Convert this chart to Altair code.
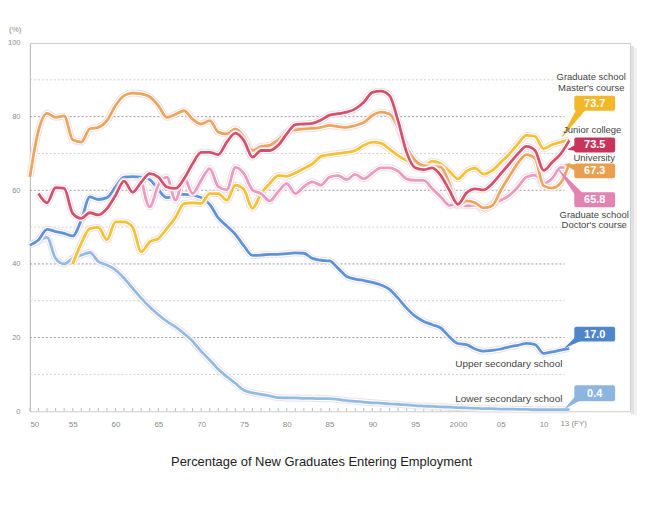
import altair as alt
import pandas as pd

# ---------------- data ----------------
years = list(range(1950, 2014))

upper_secondary = [45.1, 46.5, 49.4, 48.8, 48.3, 47.6, 51.9, 58.2, 57.5, 58.0,
                   60.9, 63.6, 63.7, 63.6, 62.9, 60.2, 58.0, 58.6, 58.9, 58.7,
                   58.0, 56.2, 52.5, 50.3, 48.0, 44.9, 42.3, 42.4, 42.6, 42.6,
                   42.8, 43.0, 42.9, 41.5, 41.0, 40.8, 38.8, 36.6, 35.9, 35.5,
                   35.0, 34.3, 33.1, 30.7, 28.0, 25.8, 24.4, 23.5, 22.6, 20.2,
                   18.4, 18.1, 16.9, 16.3, 16.5, 16.9, 17.5, 17.9, 18.4, 18.1,
                   15.7, 16.1, 16.6, 17.0]

lower_secondary = [45.1, 46.2, 47.2, 41.5, 40.0, 41.5, 42.4, 43.1, 40.6, 39.7,
                   38.4, 36.1, 33.4, 30.7, 28.3, 26.2, 24.4, 22.9, 21.1, 19.0,
                   16.3, 13.9, 11.4, 9.4, 7.6, 5.7, 5.0, 4.6, 4.2, 3.7,
                   3.6, 3.6, 3.5, 3.5, 3.4, 3.4, 3.2, 2.9, 2.7, 2.5,
                   2.3, 2.2, 2.0, 1.9, 1.7, 1.5, 1.4, 1.3, 1.2, 1.1,
                   1.0, 0.9, 0.8, 0.7, 0.7, 0.6, 0.6, 0.5, 0.5, 0.4,
                   0.4, 0.4, 0.4, 0.4]

university = [63.6, 76.2, 80.9, 79.8, 80.2, 73.7, 73.1, 76.7, 77.1, 78.9,
              83.0, 85.7, 86.4, 86.2, 85.4, 83.0, 79.8, 80.6, 81.6, 79.3,
              78.0, 78.9, 75.8, 75.3, 76.7, 74.6, 70.8, 71.9, 72.2, 73.7,
              75.8, 76.4, 76.7, 76.8, 77.1, 77.6, 77.3, 77.1, 77.6, 78.4,
              80.3, 81.2, 80.7, 77.1, 71.7, 68.1, 66.7, 66.5, 66.3, 61.8,
              55.7, 57.1, 56.6, 55.2, 55.8, 60.0, 63.8, 67.4, 69.7, 68.6,
              61.2, 60.6, 62.0, 67.3]

junior_college = [None,
                  59.1, 56.6, 60.7, 60.5, 53.7, 52.4, 53.9, 53.3, 55.0,
                  58.6, 62.5, 59.5, 62.2, 64.5, 63.6, 60.9, 60.5, 63.1, 67.2,
                  70.3, 70.3, 69.7, 73.1, 75.5, 73.5, 69.0, 70.8, 70.8, 72.2,
                  75.3, 77.8, 78.0, 78.2, 79.1, 80.4, 80.8, 81.2, 82.1, 83.9,
                  86.6, 86.9, 85.7, 78.9, 70.3, 66.1, 65.6, 66.1, 64.0, 60.0,
                  56.2, 59.3, 60.4, 60.1, 61.8, 64.5, 67.2, 69.9, 71.9, 70.8,
                  65.4, 67.6, 69.9, 73.5]

masters = [None] * 5 + [40.0, 45.6, 49.6, 49.9, 46.6,
                        51.4, 51.4, 50.0, 43.3, 46.0, 46.9, 49.6, 52.6, 56.4, 56.6,
                        56.4, 59.1, 59.1, 57.3, 61.4, 60.2, 55.1, 59.1, 61.8, 64.0,
                        63.8, 64.7, 65.9, 67.2, 69.2, 69.7, 70.0, 70.3, 70.8, 72.2,
                        73.1, 72.8, 71.2, 69.4, 68.1, 67.2, 66.7, 67.9, 67.2, 65.2,
                        63.1, 65.2, 66.0, 64.4, 65.4, 67.6, 69.9, 72.6, 74.9, 74.6,
                        71.3, 72.4, 73.1, 73.7]

doctors = [None] * 13 + [63.6, 55.5, 61.4, 63.6, 57.3, 63.6, 59.1,
                         62.7, 65.9, 61.0, 60.1, 66.2, 64.5, 60.1, 59.1, 57.1, 59.6,
                         61.8, 59.1, 61.0, 62.3, 61.4, 63.6, 64.0, 62.9, 64.3, 63.1,
                         64.7, 66.1, 66.1, 65.2, 63.1, 62.7, 62.7, 60.4, 58.2, 55.9,
                         56.3, 55.8, 55.9, 54.6, 56.4, 57.3, 58.6, 60.9, 63.6, 64.1,
                         61.8, 63.2, 66.2, 65.8]

end_labels = ["73.7", "73.5", "67.3", "65.8", "17.0", "0.4"]
x_tick_years = [1950, 1955, 1960, 1965, 1970, 1975, 1980, 1985, 1990, 1995, 2000, 2005, 2010]
y_tick_values = [0, 20, 40, 60, 80, 100]
grid_values = [10, 20, 30, 40, 50, 60, 70, 80, 90]

# ---------------- layout helpers (page pixels -> data units) ----------------
X0, X1 = 1950, 2020.1
W, H = 603, 370
LEFT, TOP = 30, 42
FONT = "Liberation Sans"


def xv(px):
    return X0 + (px - LEFT) / W * (X1 - X0)


def yv(py):
    return 100 - (py - TOP) / H * 100


xs = alt.Scale(domain=[X0, X1], nice=False, zero=False)
ys = alt.Scale(domain=[0, 100], nice=False)

xaxis = alt.Axis(values=x_tick_years, title=None, grid=False, ticks=False, domain=False,
                 labelExpr="datum.value == 2000 ? '2000' : substring(toString(datum.value), 2)",
                 labelPadding=9, labelFontSize=8, labelColor="#8a8a8a", labelFont=FONT)
yaxis = alt.Axis(values=y_tick_values, title=None, grid=False, ticks=False, domain=True,
                 domainColor="#bdbdbd", labelPadding=10, labelFontSize=7.5,
                 labelColor="#8a8a8a", labelFont=FONT)


def X(field="x"):
    return alt.X(f"{field}:Q", scale=xs, axis=xaxis)


def Y(field="y"):
    return alt.Y(f"{field}:Q", scale=ys, axis=yaxis)


layers = []

# drop shadow of the frame (right side)
shadow = pd.DataFrame({"x": [xv(634), xv(637)], "x2": [xv(637), xv(640)],
                       "y": [yv(45), yv(47)], "y2": [yv(415), yv(416)],
                       "c": ["#e2e2e2", "#f0f0f0"]})
layers.append(alt.Chart(shadow).mark_rect().encode(
    x=X(), x2="x2:Q", y=Y(), y2="y2:Q", color=alt.Color("c:N", scale=None)))

# dashed gridlines
grid_df = pd.DataFrame({"y": grid_values, "x": [X0] * len(grid_values),
                        "x2": [xv(567)] * len(grid_values),
                        "c": ["#cfcfcf" if v % 20 else "#9a9a9a" for v in grid_values]})
layers.append(alt.Chart(grid_df).mark_rule(strokeDash=[2, 2], strokeWidth=1).encode(
    x=X(), x2="x2:Q", y=Y(), color=alt.Color("c:N", scale=None)))

# small year ticks along the bottom axis
tick_df = pd.DataFrame({"x": years, "y": [0] * len(years), "y2": [0.9] * len(years)})
layers.append(alt.Chart(tick_df).mark_rule(color="#bdbdbd", strokeWidth=1).encode(
    x=X(), y=Y(), y2="y2:Q"))

# ---------------- series ----------------
series = [
    ("Lower secondary school", lower_secondary, "#92bbe4"),
    ("Upper secondary school", upper_secondary, "#5d93d8"),
    ("Master's course", masters, "#f5c232"),
    ("Doctor's course", doctors, "#e99bc0"),
    ("University", university, "#eba55c"),
    ("Junior college", junior_college, "#d4516e"),
]

for name, vals, col in series:
    df = pd.DataFrame({"x": years, "y": vals}).dropna()
    base = alt.Chart(df).encode(x=X(), y=Y())
    layers.append(base.mark_line(color="#ead7dd", strokeWidth=7, opacity=0.8,
                                 interpolate="monotone", strokeJoin="round"))
    layers.append(base.mark_line(color="white", strokeWidth=5,
                                 interpolate="monotone", strokeJoin="round"))
    layers.append(base.mark_line(color=col, strokeWidth=2.8,
                                 interpolate="monotone", strokeJoin="round"))

# ---------------- callouts ----------------
box_colors = ["#f2b72a", "#c8345a", "#e9a04e", "#e183b3", "#4f85c9", "#8cb6df"]
box_tops = [95, 137, 163, 192, 327, 386]
box_bottoms = [110, 152, 178, 207, 342, 402]

# tapered pointers: (tip px, tip py, base px, base py)
tails = [(565, 136, 584, 108), (571, 149, 581, 147), (568, 164, 581, 168),
         (562, 170, 584, 197), (568, 348, 584, 337), (568, 409, 584, 396)]
tail_rows = []
for i, (tx, ty, bx, by) in enumerate(tails):
    tail_rows.append({"id": i, "o": 0, "x": xv(tx), "y": yv(ty), "w": 0.8, "c": box_colors[i]})
    tail_rows.append({"id": i, "o": 1, "x": xv(bx), "y": yv(by), "w": 8, "c": box_colors[i]})
tail_df = pd.DataFrame(tail_rows)
layers.append(alt.Chart(tail_df).mark_trail().encode(
    x=X(), y=Y(), detail="id:N", order="o:Q",
    size=alt.Size("w:Q", scale=None, legend=None),
    color=alt.Color("c:N", scale=None)))

box_df = pd.DataFrame({"x": [xv(577)] * 6, "x2": [xv(618)] * 6,
                       "y": [yv(t) for t in box_tops], "y2": [yv(b) for b in box_bottoms],
                       "c": box_colors, "label": end_labels,
                       "xm": [xv(597.5)] * 6,
                       "ym": [yv((t + b) / 2 + 0.5) for t, b in zip(box_tops, box_bottoms)]})
layers.append(alt.Chart(box_df).mark_rect(cornerRadius=2).encode(
    x=X(), x2="x2:Q", y=Y(), y2="y2:Q", color=alt.Color("c:N", scale=None)))
layers.append(alt.Chart(box_df).mark_text(font=FONT, fontSize=11, fontWeight="bold",
                                          color="white", baseline="middle").encode(
    x=X("xm"), y=Y("ym"), text="label:N"))

# series name labels
center_labels = pd.DataFrame({
    "t": ["Graduate school", "Master's course", "Junior college", "University",
          "Graduate school", "Doctor's course"],
    "x": [xv(594), xv(594), xv(595), xv(597), xv(597), xv(597)],
    "y": [yv(76), yv(87), yv(129), yv(158), yv(215), yv(225)],
})
layers.append(alt.Chart(center_labels).mark_text(font=FONT, fontSize=9.5, color="#444444",
                                                 baseline="middle", align="center").encode(
    x=X(), y=Y(), text="t:N"))

right_labels = pd.DataFrame({
    "t": ["Upper secondary school", "Lower secondary school"],
    "x": [xv(565), xv(565)],
    "y": [yv(365), yv(400)],
})
layers.append(alt.Chart(right_labels).mark_text(font=FONT, fontSize=10, color="#444444",
                                                baseline="middle", align="right").encode(
    x=X(), y=Y(), text="t:N"))

# axis extras and unit
extra = pd.DataFrame({"t": ["13 (FY)", "(%)"], "x": [xv(563), xv(9)],
                      "y": [yv(425), yv(29)]})
layers.append(alt.Chart(extra).mark_text(font=FONT, fontSize=8, color="#8a8a8a",
                                         baseline="middle", align="left").encode(
    x=X(), y=Y(), text="t:N"))

# title
title_df = pd.DataFrame({"t": ["Percentage of New Graduates Entering Employment"],
                         "x": [xv(323)], "y": [yv(463)]})
layers.append(alt.Chart(title_df).mark_text(font=FONT, fontSize=13, color="#222222",
                                            baseline="middle", align="center").encode(
    x=X(), y=Y(), text="t:N"))

chart = alt.layer(*layers).properties(
    width=W, height=H, autosize="none",
    padding={"left": LEFT - 8, "top": TOP - 8, "right": 12, "bottom": 80},
    background="white",
).configure_view(stroke="#cccccc", strokeWidth=1)

chart.save("out.html", embed_options={"renderer": "svg", "actions": False})
